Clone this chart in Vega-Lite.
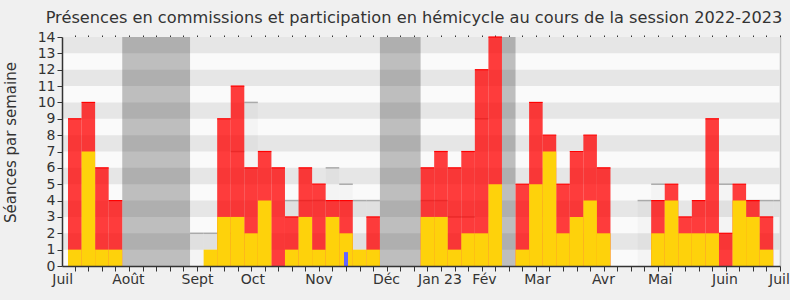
{
  "$schema": "https://vega.github.io/schema/vega-lite/v6.json",
  "autosize": {"type": "none"},
  "width": 718,
  "height": 229,
  "padding": {"left": 62, "top": 37, "right": 10, "bottom": 34},
  "background": "#f0f0f0",
  "title": {
    "text": "Présences en commissions et participation en hémicycle au cours de la session 2022-2023",
    "font": "DejaVu Sans",
    "fontSize": 16.2,
    "fontWeight": "normal",
    "color": "#333333",
    "anchor": "middle",
    "offset": 4,
    "dx": -7
  },
  "config": {
    "view": {"fill": "#fafafa", "stroke": null},
    "font": "DejaVu Sans"
  },
  "datasets": {
    "stripes": [
      {"lo": 1, "hi": 2}, {"lo": 3, "hi": 4}, {"lo": 5, "hi": 6}, {"lo": 7, "hi": 8},
      {"lo": 9, "hi": 10}, {"lo": 11, "hi": 12}, {"lo": 13, "hi": 14}
    ],
    "vacances": [
      {"debut": 3.5, "fin": 8.5},
      {"debut": 22.5, "fin": 25.5},
      {"debut": 31.5, "fin": 32.5}
    ],
    "semaines": [
      {"w": 0, "hem": 1, "tot": 9},
      {"w": 1, "hem": 7, "tot": 10},
      {"w": 2, "hem": 1, "tot": 6},
      {"w": 3, "hem": 1, "tot": 4},
      {"w": 9, "med": 2},
      {"w": 10, "hem": 1, "med": 2},
      {"w": 11, "hem": 3, "tot": 9, "med": 2},
      {"w": 12, "hem": 3, "tot": 11, "med": 7},
      {"w": 13, "hem": 2, "tot": 6, "med": 10},
      {"w": 14, "hem": 4, "tot": 7},
      {"w": 15, "tot": 6},
      {"w": 16, "hem": 1, "tot": 3, "med": 4},
      {"w": 17, "hem": 3, "tot": 6, "med": 4},
      {"w": 18, "hem": 1, "tot": 5, "med": 4},
      {"w": 19, "hem": 3, "tot": 4, "med": 6},
      {"w": 20, "hem": 2, "tot": 4, "med": 5, "bleu": 0.85},
      {"w": 21, "hem": 1, "med": 4},
      {"w": 22, "hem": 1, "tot": 3, "med": 4},
      {"w": 26, "hem": 3, "tot": 6, "med": 4},
      {"w": 27, "hem": 3, "tot": 7, "med": 4},
      {"w": 28, "hem": 1, "tot": 6, "med": 3},
      {"w": 29, "hem": 2, "tot": 7, "med": 3},
      {"w": 30, "hem": 2, "tot": 12, "med": 9},
      {"w": 31, "hem": 5, "tot": 14},
      {"w": 33, "hem": 1, "tot": 5},
      {"w": 34, "hem": 5, "tot": 10},
      {"w": 35, "hem": 7, "tot": 8},
      {"w": 36, "hem": 2, "tot": 5},
      {"w": 37, "hem": 3, "tot": 7},
      {"w": 38, "hem": 4, "tot": 8},
      {"w": 39, "hem": 2, "tot": 6},
      {"w": 42, "med": 4},
      {"w": 43, "hem": 2, "tot": 4, "med": 5},
      {"w": 44, "hem": 4, "tot": 5},
      {"w": 45, "hem": 2, "tot": 3},
      {"w": 46, "hem": 2, "tot": 4},
      {"w": 47, "hem": 2, "tot": 9},
      {"w": 48, "tot": 2, "med": 5},
      {"w": 49, "hem": 4, "tot": 5},
      {"w": 50, "hem": 3, "tot": 4, "med": 4},
      {"w": 51, "hem": 1, "tot": 3, "med": 4},
      {"w": 52, "med": 4}
    ]
  },
  "resolve": {"axis": {"x": "independent", "y": "independent"}},
  "layer": [
    {
      "data": {"name": "stripes"},
      "mark": {"type": "rect", "color": "#e6e6e6"},
      "encoding": {
        "y": {
          "field": "lo", "type": "quantitative",
          "scale": {"domain": [0, 14], "nice": false, "padding": 0},
          "axis": {
            "values": [0, 1, 2, 3, 4, 5, 6, 7, 8, 9, 10, 11, 12, 13, 14],
            "grid": false,
            "tickSize": 5,
            "tickColor": "#333333",
            "domainColor": "#333333",
            "domainWidth": 1.5,
            "labelFontSize": 14,
            "labelColor": "#333333",
            "labelPadding": 2,
            "title": "Séances par semaine",
            "titleFontSize": 15,
            "titleFontWeight": "normal",
            "titleColor": "#333333",
            "titleX": -44,
            "titleY": 105,
            "zindex": 1
          }
        },
        "y2": {"field": "hi"}
      }
    },
    {
      "data": {"name": "vacances"},
      "mark": {"type": "rect", "color": "#000000", "opacity": 0.24},
      "encoding": {
        "x": {
          "field": "debut", "type": "quantitative",
          "scale": {"domain": [-0.942, 52.0], "nice": false, "zero": false, "padding": 0},
          "axis": {
            "orient": "top",
            "values": [0,1,2,3,4,5,6,7,8,9,10,11,12,13,14,15,16,17,18,19,20,21,22,23,24,25,26,27,28,29,30,31,32,33,34,35,36,37,38,39,40,41,42,43,44,45,46,47,48,49,50,51,52],
            "labels": false,
            "domain": false,
            "grid": false,
            "tickSize": 2,
            "tickColor": "#333333",
            "title": null
          }
        },
        "x2": {"field": "fin"}
      }
    },
    {
      "data": {"name": "semaines"},
      "mark": {"type": "bar", "color": "#000000", "opacity": 0.025, "size": 13.56, "clip": true},
      "encoding": {
        "x": {"field": "w", "type": "quantitative", "scale": {"domain": [-0.942, 52.0], "nice": false, "zero": false, "padding": 0}, "axis": null},
        "y": {"field": "med", "type": "quantitative", "axis": null}
      }
    },
    {
      "data": {"name": "semaines"},
      "mark": {"type": "tick", "orient": "horizontal", "color": "#aaaaaa", "opacity": 1, "size": 13.56, "thickness": 1.5, "clip": true},
      "encoding": {
        "x": {"field": "w", "type": "quantitative", "scale": {"domain": [-0.942, 52.0], "nice": false, "zero": false, "padding": 0}, "axis": null},
        "y": {"field": "med", "type": "quantitative", "axis": null}
      }
    },
    {
      "data": {"name": "semaines"},
      "mark": {"type": "bar", "color": "#ff0000", "fillOpacity": 0.76, "size": 13.56, "clip": true},
      "encoding": {
        "x": {"field": "w", "type": "quantitative", "scale": {"domain": [-0.942, 52.0], "nice": false, "zero": false, "padding": 0}, "axis": null},
        "y": {"field": "tot", "type": "quantitative", "axis": null}
      }
    },
    {
      "data": {"name": "semaines"},
      "mark": {"type": "tick", "orient": "horizontal", "color": "#ff0000", "opacity": 1, "size": 13.56, "thickness": 1.2},
      "encoding": {
        "x": {"field": "w", "type": "quantitative", "scale": {"domain": [-0.942, 52.0], "nice": false, "zero": false, "padding": 0}, "axis": null},
        "y": {"field": "tot", "type": "quantitative", "axis": null}
      }
    },
    {
      "data": {"name": "semaines"},
      "mark": {"type": "bar", "color": "#fed20b", "size": 13.56},
      "encoding": {
        "x": {
          "field": "w", "type": "quantitative",
          "scale": {"domain": [-0.942, 52.0], "nice": false, "zero": false, "padding": 0},
          "axis": {
            "orient": "bottom",
            "values": [0,1,2,3,4,5,6,7,8,9,10,11,12,13,14,15,16,17,18,19,20,21,22,23,24,25,26,27,28,29,30,31,32,33,34,35,36,37,38,39,40,41,42,43,44,45,46,47,48,49,50,51,52,-0.93,3.92,9.01,13.1,17.97,22.95,26.89,30.17,34.08,38.95,43.13,47.9,51.92],
            "labelExpr": "datum.value == -0.93 ? 'Juil' : datum.value == 3.92 ? 'Août' : datum.value == 9.01 ? 'Sept' : datum.value == 13.1 ? 'Oct' : datum.value == 17.97 ? 'Nov' : datum.value == 22.95 ? 'Déc' : datum.value == 26.89 ? 'Jan 23' : datum.value == 30.17 ? 'Fév' : datum.value == 34.08 ? 'Mar' : datum.value == 38.95 ? 'Avr' : datum.value == 43.13 ? 'Mai' : datum.value == 47.9 ? 'Juin' : datum.value == 51.92 ? 'Juil' : ''",
            "tickOpacity": {"condition": {"test": "datum.value % 1 === 0", "value": 1}, "value": 0},
            "tickSize": 5,
            "tickColor": "#333333",
            "domainColor": "#333333",
            "domainWidth": 1.5,
            "grid": false,
            "labelFontSize": 14,
            "labelColor": "#333333",
            "labelPadding": 1,
            "labelOverlap": false,
            "labelFlush": false,
            "title": null,
            "zindex": 1
          }
        },
        "y": {"field": "hem", "type": "quantitative", "axis": null}
      }
    },
    {
      "data": {"name": "semaines"},
      "mark": {"type": "bar", "color": "#6464ff", "size": 4},
      "encoding": {
        "x": {"field": "w", "type": "quantitative", "scale": {"domain": [-0.942, 52.0], "nice": false, "zero": false, "padding": 0}, "axis": null},
        "y": {
          "field": "bleu", "type": "quantitative",
          "axis": {"orient": "right", "labels": false, "ticks": false, "grid": false, "title": null, "domainColor": "#c4c4c4", "domainWidth": 1.5}
        }
      }
    }
  ]
}
